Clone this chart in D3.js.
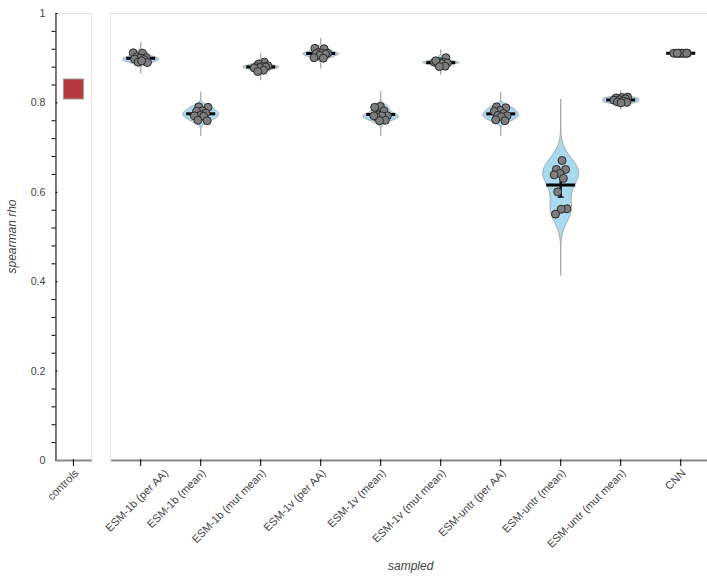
<!DOCTYPE html>
<html>
<head>
<meta charset="utf-8">
<script src="https://cdn.jsdelivr.net/npm/d3@7"></script>
<style>
  html, body { margin: 0; padding: 0; background: #fff; }
  svg { display: block; font-family: "Liberation Sans", Arial, Helvetica, sans-serif; }
</style>
</head>
<body>
<svg id="chart" width="707" height="577"></svg>
<script>
// Spearman rho per model, 10 replicates each
const categories = [
  "ESM-1b (per AA)", "ESM-1b (mean)", "ESM-1b (mut mean)",
  "ESM-1v (per AA)", "ESM-1v (mean)", "ESM-1v (mut mean)",
  "ESM-untr (per AA)", "ESM-untr (mean)", "ESM-untr (mut mean)", "CNN"
];
const esm1bPerAA    = [0.911, 0.910, 0.902, 0.900, 0.899, 0.897, 0.896, 0.890, 0.889, 0.893];
const esm1bMean     = [0.790, 0.789, 0.781, 0.780, 0.776, 0.771, 0.770, 0.769, 0.760, 0.759];
const esm1bMutMean  = [0.890, 0.886, 0.882, 0.880, 0.880, 0.879, 0.878, 0.877, 0.872, 0.869];
const esm1vPerAA    = [0.921, 0.920, 0.912, 0.910, 0.910, 0.909, 0.908, 0.905, 0.900, 0.899];
const esm1vMean     = [0.791, 0.789, 0.781, 0.772, 0.770, 0.770, 0.768, 0.760, 0.759, 0.770];
const esm1vMutMean  = [0.900, 0.891, 0.890, 0.890, 0.889, 0.888, 0.887, 0.893, 0.881, 0.880];
const esmUntrPerAA  = [0.790, 0.788, 0.782, 0.780, 0.775, 0.771, 0.770, 0.768, 0.761, 0.759];
const esmUntrMean   = [0.670, 0.650, 0.650, 0.641, 0.638, 0.630, 0.600, 0.562, 0.561, 0.550];
const esmUntrMutMean= [0.812, 0.811, 0.810, 0.808, 0.806, 0.805, 0.803, 0.801, 0.800, 0.799];
const cnn           = [0.910, 0.910, 0.910, 0.910, 0.910, 0.910, 0.910, 0.910, 0.910, 0.910];
const seriesValues = [esm1bPerAA, esm1bMean, esm1bMutMean, esm1vPerAA, esm1vMean,
                      esm1vMutMean, esmUntrPerAA, esmUntrMean, esmUntrMutMean, cnn];

// control baseline
const controlCategories = ["controls"];
const controlValues = [0.83];

const yTickValues = [0, 0.2, 0.4, 0.6, 0.8, 1];
const yMinorTickValues = d3.range(0, 25).map(k => k * 0.04).filter(v => Math.abs(v / 0.2 - Math.round(v / 0.2)) > 1e-6);

const svg = d3.select("#chart");
const plotTop = 13, plotBottom = 460;

const y = d3.scaleLinear().domain([0, 1]).range([plotBottom, plotTop]);
const xc = d3.scaleBand().domain(controlCategories).range([55.5, 91.3]);
const x = d3.scaleBand().domain(categories).range([110.7, 710.7]);

// panel frames
svg.append("rect").attr("x", 55.5).attr("y", plotTop + 0.5).attr("width", 91.3 - 55.5).attr("height", plotBottom - plotTop)
  .attr("fill", "none").attr("stroke", "#e3e3e3");
svg.append("rect").attr("x", 110.5).attr("y", plotTop + 0.5).attr("width", 620).attr("height", plotBottom - plotTop)
  .attr("fill", "none").attr("stroke", "#e3e3e3");

// y axis
const yAxis = svg.append("g").attr("transform", "translate(55.5,0)")
  .call(d3.axisLeft(y).tickValues(yTickValues).tickFormat(d3.format("~g")).tickSizeInner(6).tickSizeOuter(0).tickPadding(4));
yAxis.select(".domain").attr("stroke", "#000");
yAxis.selectAll(".tick line").attr("x2", 2).attr("stroke", "#000");
yAxis.selectAll(".tick text").attr("fill", "#444").style("font-size", "10.7px");
const yMinor = svg.append("g").attr("transform", "translate(55.5,0)")
  .call(d3.axisLeft(y).tickValues(yMinorTickValues).tickFormat("").tickSizeInner(4).tickSizeOuter(0));
yMinor.select(".domain").remove();
yMinor.selectAll(".tick line").attr("stroke", "#000");

// x axes
function styleXAxis(g) {
  g.select(".domain").attr("stroke", "#8a8a8a").attr("stroke-width", 2);
  g.selectAll(".tick line").attr("stroke", "#000").attr("y1", -1);
  g.selectAll(".tick text")
    .attr("fill", "#444").style("font-size", "11px")
    .attr("text-anchor", "end").attr("x", 0).attr("y", 0).attr("dy", "0.35em")
    .attr("transform", "translate(3,11) rotate(-45)");
}
const xcAxis = svg.append("g").attr("transform", `translate(0,${plotBottom})`)
  .call(d3.axisBottom(xc).tickSizeInner(6).tickSizeOuter(0));
styleXAxis(xcAxis);
const xAxis = svg.append("g").attr("transform", `translate(0,${plotBottom})`)
  .call(d3.axisBottom(x).tickSizeInner(6).tickSizeOuter(0));
styleXAxis(xAxis);
// keep rotated labels from running past the left edge of the main plot area
xAxis.selectAll(".tick text").each(function () {
  const r = this.getBoundingClientRect();
  const minLeft = 103;
  if (r.left < minLeft) {
    d3.select(this).attr("transform", `translate(${3 + (minLeft - r.left)},11) rotate(-45)`);
  }
});

// axis titles
svg.append("text").attr("transform", `translate(16,${(plotTop + plotBottom) / 2}) rotate(-90)`)
  .attr("text-anchor", "middle").attr("fill", "#444").style("font-size", "12px").style("font-style", "italic")
  .text("spearman rho");
svg.append("text").attr("x", 410.7).attr("y", 570)
  .attr("text-anchor", "middle").attr("fill", "#444").style("font-size", "12px").style("font-style", "italic")
  .text("sampled");

// control marker
svg.selectAll(".control").data(controlValues).join("rect").attr("class", "control")
  .attr("x", (d, i) => xc(controlCategories[i]) + xc.bandwidth() / 2 - 10)
  .attr("y", d => y(d) - 10).attr("width", 20).attr("height", 20)
  .attr("fill", "#b7383f").attr("stroke", "#9a9a9a").attr("stroke-width", 1);

// gaussian kernel density with Scott's bandwidth, extended 5 bandwidths past the data
function density(vals) {
  const n = vals.length;
  const sd = d3.deviation(vals);
  if (!sd) return null;
  const bw = sd * Math.pow(n, -0.2);
  const lo = d3.min(vals) - 5 * bw, hi = d3.max(vals) + 5 * bw;
  const N = 160;
  return d3.range(N + 1).map(k => {
    const t = lo + (hi - lo) * k / N;
    return [t, d3.sum(vals, v => Math.exp(-0.5 * ((t - v) / bw) ** 2))];
  });
}

const halfWidth = 18;
const g = svg.append("g");
categories.forEach((cat, ci) => {
  const vals = seriesValues[ci];
  const cx = x(cat) + x.bandwidth() / 2;
  const dens = density(vals);
  if (dens) {
    const maxD = d3.max(dens, d => d[1]);
    const w = d3.scaleLinear().domain([0, maxD]).range([0, halfWidth]);
    const area = d3.area()
      .y(d => y(d[0]))
      .x0(d => cx - w(d[1]))
      .x1(d => cx + w(d[1]))
      .curve(d3.curveBasis);
    g.append("path").datum(dens).attr("d", area)
      .attr("fill", "#a9d9ee").attr("stroke", "#999").attr("stroke-width", 0.8);
  }
  const mean = d3.mean(vals);
  const sd = d3.deviation(vals) || 0;
  const ci95 = 1.96 * sd / Math.sqrt(vals.length);
  // mean line
  g.append("line").attr("x1", cx - 14.5).attr("x2", cx + 14.5)
    .attr("y1", y(mean)).attr("y2", y(mean))
    .attr("stroke", "#000").attr("stroke-width", 3);
  // 95% interval
  if (ci95 > 0) {
    g.append("line").attr("x1", cx).attr("x2", cx).attr("y1", y(mean + ci95)).attr("y2", y(mean - ci95))
      .attr("stroke", "#111").attr("stroke-width", 2.5);
    [mean + ci95, mean - ci95].forEach(v => {
      g.append("line").attr("x1", cx - 3).attr("x2", cx + 3).attr("y1", y(v)).attr("y2", y(v))
        .attr("stroke", "#111").attr("stroke-width", 1.5);
    });
  }
  // replicate points, spread sideways with a fixed golden-ratio sequence
  g.selectAll(null).data(vals).join("circle")
    .attr("cx", (d, i) => cx + (((i * 0.618034 + ci * 0.37) % 1) - 0.5) * 15)
    .attr("cy", d => y(d))
    .attr("r", 4)
    .attr("fill", "#7d7d7d").attr("stroke", "#2b2b2b").attr("stroke-width", 1);
});
</script>
</body>
</html>
